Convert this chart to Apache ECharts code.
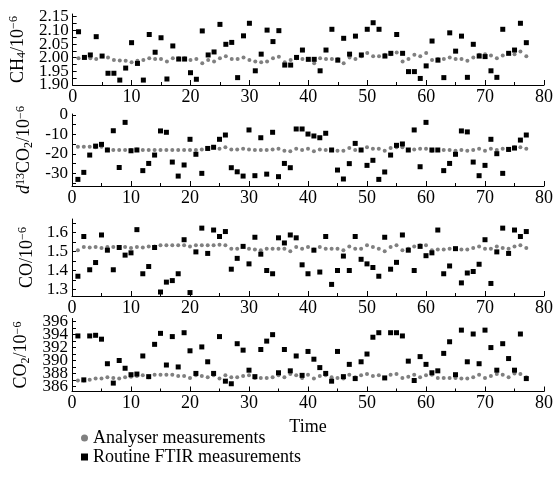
<!DOCTYPE html>
<html>
<head>
<meta charset="utf-8">
<script src="https://cdn.jsdelivr.net/npm/echarts@6/dist/echarts.min.js"></script>
<style>
  html, body { margin: 0; padding: 0; background: #fff; }
  #chart { width: 556px; height: 477px; }
</style>
</head>
<body>
<div id="chart"></div>
<script>
// 时间点
const times = [1,2,3,4,5,6,7,8,9,10,11,12,13,14,15,16,17,18,19,20,
  21,22,23,24,25,26,27,28,29,30,31,32,33,34,35,36,37,38,39,40,
  41,42,43,44,45,46,47,48,49,50,51,52,53,54,55,56,57,58,59,60,
  61,62,63,64,65,66,67,68,69,70,71,72,73,74,75,76,77];

// CH4
const ch4Analyser = [1.998,2.001,1.998,1.995,2.005,2.001,1.992,1.990,1.989,1.983,
  1.989,1.992,1.998,1.995,1.995,1.986,1.998,1.998,1.998,1.992,
  1.995,1.980,1.992,1.986,1.998,2.005,1.995,1.995,2.001,1.992,
  1.986,1.983,1.986,1.998,2.003,1.983,1.992,1.998,1.995,1.995,
  1.980,1.998,1.995,1.995,1.995,1.980,2.001,1.995,2.005,2.017,
  2.005,2.005,2.011,2.013,2.019,1.986,1.995,2.011,2.005,2.017,
  1.992,1.995,1.995,2.001,1.995,1.995,1.989,2.001,2.011,2.013,
  2.008,1.998,2.008,2.017,2.013,2.023,2.005];
const ch4Ftir = [2.095,2.001,2.010,2.077,2.006,1.943,1.943,1.918,1.962,2.055,
  1.979,1.918,2.085,2.020,2.073,1.922,2.043,1.995,1.995,1.945,
  1.921,2.098,2.010,2.021,2.122,2.049,2.056,1.927,2.080,2.126,
  1.952,2.013,2.101,2.059,2.099,1.973,1.973,2.001,2.028,1.994,
  1.994,1.952,2.028,2.104,1.991,2.071,2.013,2.079,2.010,2.104,
  2.128,2.104,2.006,2.016,2.085,2.016,1.949,1.949,1.924,1.970,
  2.061,1.991,1.927,2.091,2.024,2.079,1.928,2.049,2.006,2.004,
  1.952,1.928,2.104,2.016,2.028,2.126,2.055];

// d13CO2
const d13Analyser = [-16.3,-16.3,-16.3,-16.6,-16.3,-17.7,-18.0,-18.0,-18.0,-18.0,
  -17.7,-18.0,-18.0,-18.0,-18.0,-18.0,-18.0,-18.0,-18.0,-18.0,
  -18.0,-17.7,-17.3,-16.6,-17.3,-16.6,-17.7,-17.7,-17.3,-17.7,
  -18.0,-18.0,-18.0,-17.7,-17.3,-18.4,-18.7,-17.3,-18.0,-17.3,
  -18.7,-17.7,-18.0,-18.0,-18.4,-18.4,-17.0,-18.0,-18.0,-16.6,
  -17.3,-17.3,-18.4,-17.0,-16.6,-16.6,-18.0,-17.7,-17.3,-17.3,
  -18.4,-18.0,-18.0,-18.0,-18.4,-18.0,-18.4,-18.0,-17.3,-18.4,
  -17.3,-18.0,-17.3,-18.0,-16.6,-16.6,-17.3];
const d13Ftir = [-33.1,-29.5,-20.6,-16.0,-15.1,-18.0,-8.1,-27.0,-3.8,-18.4,
  -18.0,-28.6,-24.9,-20.6,-8.2,-8.9,-24.2,-31.4,-25.7,-12.5,
  -20.2,-30.0,-17.2,-16.6,-12.5,-10.3,-27.1,-29.2,-31.4,-7.7,
  -31.2,-11.7,-30.4,-8.9,-31.7,-24.9,-27.1,-7.2,-7.2,-9.8,
  -10.8,-11.7,-9.4,-18.0,-28.3,-32.9,-25.0,-14.6,-18.0,-25.9,
  -23.3,-33.1,-29.3,-20.6,-15.6,-14.9,-18.0,-7.7,-26.6,-3.8,
  -18.0,-18.0,-28.6,-24.9,-20.2,-8.2,-8.7,-24.2,-31.2,-25.9,
  -12.5,-19.9,-30.0,-17.7,-17.0,-12.9,-10.3];

// CO
const coAnalyser = [1.506,1.523,1.520,1.523,1.518,1.523,1.523,1.520,1.523,1.518,
  1.523,1.520,1.526,1.526,1.532,1.532,1.532,1.532,1.532,1.526,
  1.532,1.532,1.532,1.532,1.535,1.532,1.514,1.514,1.526,1.514,
  1.509,1.506,1.514,1.514,1.514,1.514,1.501,1.523,1.514,1.523,
  1.509,1.523,1.514,1.514,1.514,1.506,1.526,1.514,1.514,1.532,
  1.523,1.514,1.501,1.523,1.532,1.506,1.514,1.526,1.532,1.532,
  1.506,1.509,1.509,1.514,1.514,1.509,1.509,1.518,1.526,1.514,
  1.514,1.526,1.518,1.514,1.526,1.532,1.518];
const coFtir = [1.369,1.578,1.403,1.441,1.586,1.506,1.403,1.520,1.480,1.492,
  1.614,1.382,1.420,1.520,1.286,1.338,1.346,1.382,1.561,1.283,
  1.497,1.622,1.489,1.612,1.578,1.604,1.406,1.463,1.526,1.434,
  1.574,1.485,1.399,1.382,1.571,1.544,1.586,1.571,1.429,1.382,
  1.506,1.391,1.578,1.326,1.399,1.475,1.399,1.578,1.458,1.434,
  1.415,1.369,1.574,1.406,1.442,1.586,1.506,1.399,1.526,1.477,
  1.492,1.612,1.382,1.423,1.514,1.334,1.386,1.394,1.432,1.561,
  1.331,1.497,1.622,1.489,1.612,1.578,1.604];

// CO2
const co2Analyser = [386.9,386.9,387.0,387.2,387.2,387.4,387.3,387.2,387.4,387.5,
  387.6,387.7,387.4,387.8,387.8,387.8,387.8,387.6,387.6,387.3,
  387.7,387.6,387.4,387.7,387.2,387.7,387.4,387.4,387.6,387.7,
  387.3,387.3,387.3,387.4,387.7,387.4,387.9,387.7,387.3,387.8,
  387.2,387.6,387.7,387.4,387.3,387.2,387.8,387.4,387.7,387.9,
  387.6,387.7,387.3,387.8,387.9,387.3,387.5,387.8,387.4,387.7,
  387.8,387.3,387.3,387.3,387.3,387.2,387.2,387.4,387.8,387.3,
  387.6,387.9,387.8,387.4,388.0,387.9,387.4];
const co2Ftir = [393.8,387.0,393.8,393.9,393.3,389.5,386.5,390.0,388.8,387.8,
  387.9,390.7,387.5,392.5,394.2,389.3,393.7,389.0,394.3,391.5,
  388.0,392.1,389.8,388.0,393.7,386.8,386.4,392.6,391.6,388.5,
  387.5,391.7,393.0,394.0,388.1,391.7,388.4,390.7,387.7,391.4,
  390.2,388.9,388.0,386.8,391.4,387.5,389.4,387.2,389.8,391.0,
  393.6,394.3,387.3,394.3,394.3,393.8,389.9,386.9,390.6,389.4,
  388.1,388.4,391.1,392.9,387.8,394.7,389.8,394.1,389.5,394.7,
  392.0,388.5,392.6,390.3,388.5,394.1,387.2];

// 刻度
const ch4Labels = [1.90, 1.95, 2.00, 2.05, 2.10, 2.15];
const ch4Ticks = [1.90, 1.925, 1.95, 1.975, 2.00, 2.025, 2.05, 2.075, 2.10, 2.125, 2.15];
const d13Labels = [-30, -20, -10, 0];
const d13Ticks = [-35, -30, -25, -20, -15, -10, -5, 0];
const coLabels = [1.3, 1.4, 1.5, 1.6];
const coTicks = [1.3, 1.35, 1.4, 1.45, 1.5, 1.55, 1.6, 1.65];
const co2Labels = [386, 388, 390, 392, 394, 396];
const co2Ticks = [386, 387, 388, 389, 390, 391, 392, 393, 394, 395, 396];

const SERIF = 'Liberation Serif';
const nameA = 'Analyser measurements';
const nameF = 'Routine FTIR measurements';

const panels = [
  { top: 14, height: 71, min: 1.9, max: 2.16, labels: ch4Labels, ticks: ch4Ticks, digits: 2,
    name: '{a|CH}{s|4}{a|/10}{p|−6}', a: ch4Analyser, f: ch4Ftir },
  { top: 114, height: 72, min: -36.5, max: 0.5, labels: d13Labels, ticks: d13Ticks, digits: 0,
    name: '{i|d}{p|13}{a|CO}{s|2}{a|/10}{p|−6}', a: d13Analyser, f: d13Ftir },
  { top: 219, height: 77, min: 1.265, max: 1.67, labels: coLabels, ticks: coTicks, digits: 1,
    name: '{a|CO/10}{p|−6}', a: coAnalyser, f: coFtir },
  { top: 318.5, height: 73, min: 385.2, max: 396.5, labels: co2Labels, ticks: co2Ticks, digits: 0,
    name: '{a|CO}{s|2}{a|/10}{p|−6}', a: co2Analyser, f: co2Ftir }
];

const nameRich = {
  a: { fontFamily: SERIF, fontSize: 18, lineHeight: 20, color: '#000' },
  i: { fontFamily: SERIF, fontSize: 18, lineHeight: 20, fontStyle: 'italic', color: '#000' },
  s: { fontFamily: SERIF, fontSize: 12, lineHeight: 11, verticalAlign: 'bottom', color: '#000' },
  p: { fontFamily: SERIF, fontSize: 12, lineHeight: 11, verticalAlign: 'top', color: '#000' }
};

const axisLineStyle = { color: '#000', width: 1 };
const yLabelStyle = { margin: 4, fontFamily: SERIF, fontSize: 17, color: '#000', hideOverlap: false };

const chart = echarts.init(document.getElementById('chart'));

// 每个面板两条 y 轴：主轴画轴线、刻度和偶数标签，副轴只画奇数标签（避免重叠隐藏）
const yAxes = [];
panels.forEach((p, i) => {
  yAxes.push({
    type: 'value',
    gridIndex: i,
    min: p.min,
    max: p.max,
    splitLine: { show: false },
    axisLine: { show: true, onZero: false, lineStyle: axisLineStyle },
    axisTick: { show: true, inside: true, length: 4, customValues: p.ticks, lineStyle: axisLineStyle },
    axisLabel: Object.assign({}, yLabelStyle, {
      customValues: p.labels.filter((v, k) => k % 2 === 0),
      formatter: v => v.toFixed(p.digits)
    }),
    name: p.name,
    nameLocation: 'middle',
    nameGap: 35,
    nameTextStyle: { rich: nameRich }
  });
  yAxes.push({
    type: 'value',
    gridIndex: i,
    position: 'left',
    min: p.min,
    max: p.max,
    splitLine: { show: false },
    axisLine: { show: false },
    axisTick: { show: false },
    axisLabel: Object.assign({}, yLabelStyle, {
      customValues: p.labels.filter((v, k) => k % 2 === 1),
      formatter: v => v.toFixed(p.digits)
    })
  });
});

const option = {
  animation: false,
  backgroundColor: '#fff',
  grid: panels.map(p => ({ left: 72, right: 10, top: p.top, height: p.height })),
  xAxis: panels.map((p, i) => ({
    type: 'value',
    gridIndex: i,
    min: 0,
    max: 80,
    interval: 10,
    splitLine: { show: false },
    axisLine: { onZero: false, lineStyle: axisLineStyle },
    axisTick: { inside: true, length: 5, lineStyle: axisLineStyle },
    minorTick: { show: true, splitNumber: 2, length: 3, lineStyle: axisLineStyle },
    axisLabel: { margin: 3, fontFamily: SERIF, fontSize: 18, color: '#000', hideOverlap: false },
    name: i === 3 ? 'Time' : '',
    nameLocation: 'middle',
    nameGap: 27,
    nameTextStyle: { fontFamily: SERIF, fontSize: 18, color: '#000' }
  })),
  yAxis: yAxes,
  legend: {
    orient: 'vertical',
    left: 76,
    top: 424,
    itemWidth: 7,
    itemHeight: 7,
    itemGap: 1,
    textStyle: { fontFamily: SERIF, fontSize: 18, color: '#000' },
    data: [{ name: nameA, icon: 'circle' }, { name: nameF, icon: 'rect' }]
  },
  series: []
};

panels.forEach((p, i) => {
  option.series.push({
    name: nameA,
    type: 'scatter',
    xAxisIndex: i,
    yAxisIndex: i * 2,
    symbol: 'circle',
    symbolSize: 4,
    itemStyle: { color: '#808080', opacity: 1 },
    data: times.map((t, k) => [t, p.a[k]])
  });
  option.series.push({
    name: nameF,
    type: 'scatter',
    xAxisIndex: i,
    yAxisIndex: i * 2,
    symbol: 'rect',
    symbolSize: 5,
    itemStyle: { color: '#000', opacity: 1 },
    data: times.map((t, k) => [t, p.f[k]])
  });
});

chart.setOption(option);
</script>
</body>
</html>
